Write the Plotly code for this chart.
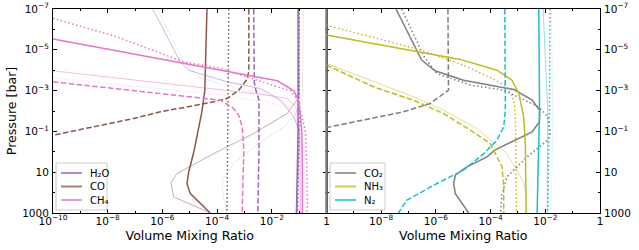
import numpy as np
import plotly.graph_objects as go

# ---------------- data (log10 values) ----------------
# Left panel: H2O, CO, CH4 ; Right panel: CO2, NH3, N2
# each curve: log10(pressure [bar]) and log10(volume mixing ratio)

H2O_solid_logP = [-7, -3, -1, 1, 3]
H2O_solid_logX = [-1.04, -1.04, -1.04, -1.07, -1.1]
H2O_dotted_logP = [-7, -3, -1, 1, 3]
H2O_dotted_logX = [-1.0, -1.0, -1.0, -1.03, -1.06]
H2O_dashed_logP = [-7, -3.4, -3.0, -2.6, -2.3, 0, 3]
H2O_dashed_logX = [-2.66, -2.64, -2.58, -2.48, -2.47, -2.47, -2.51]
H2O_thin_logP = [-7, -4.41, -4.0, -3.43, -3.1, -2.53, -1.71, -0.98, 1, 3]
H2O_thin_logX = [-6.35, -5.35, -5.04, -3.64, -2.41, -1.68, -1.19, -1.0, -1.03, -1.07]
H2O_thindot_logP = [-7, -4.33, -3.68, -3.15, -2.7, -2.04, -0.9, 1, 3]
H2O_thindot_logX = [-6.2, -5.17, -4.74, -3.39, -1.92, -1.19, -0.97, -0.98, -1.0]

CO_solid_logP = [-7, -5, -3, -2, -1, 0, 1, 1.56, 2.05, 2.54, 3]
CO_solid_logX = [-4.37, -4.40, -4.45, -4.55, -4.70, -4.85, -5.04, -5.10, -4.98, -4.61, -4.25]
CO_dashed_logP = [-7, -3.92, -3.51, -3.02, -2.61, -2.45, -2.2, -1.96, -1.63, -1.3, -0.81, -0.7]
CO_dashed_logX = [-2.84, -2.84, -2.93, -3.21, -3.64, -4.12, -5.1, -6.08, -7.06, -8.29, -10, -10.4]
CO_dotted_logP = [-7, 3]
CO_dotted_logX = [-3.57, -3.64]
CO_thin_logP = [-7, -2.7, -1.88, -0.9, 0, 1.07, 1.53, 2.21, 3]
CO_thin_logX = [-1.0, -1.0, -1.43, -2.66, -4.0, -5.47, -5.69, -5.59, -4.25]
CO_thindot_logP = [-7, -2.86, -2.04, -1.22, -0.42, 0.58, 1.4, 2.23, 3]
CO_thindot_logX = [-0.85, -0.88, -1.0, -1.55, -2.48, -3.39, -3.82, -3.77, -3.64]

CH4_solid_logP = [-5.53, -3.48, -2.99, -2.53, -1.71, -0.9, 1, 3]
CH4_solid_logX = [-10, -1.8, -1.19, -1.03, -0.95, -0.9, -0.88, -0.88]
CH4_dotted_logP = [-6.54, -5.64, -4.41, -4.09, -3.35, -2.99, -2.53, -1.71, -0.9, 0.74, 3]
CH4_dotted_logX = [-10, -7.67, -5.23, -3.88, -2.17, -1.31, -1.03, -0.88, -0.76, -0.72, -0.70]
CH4_dashed_logP = [-3.43, -2.53, -2.12, -1.8, -1.22, -0.08, 1.56, 3]
CH4_dashed_logX = [-10, -3.88, -3.39, -3.21, -3.08, -3.02, -3.06, -3.08]
CH4_thin_logP = [-3.97, -3.06, -2.78, -2.61, -2.2, -1.55, -0.9, 3]
CH4_thin_logX = [-10, -3.88, -2.17, -1.43, -1.13, -1.0, -0.97, -0.95]
CH4_thindot_logP = [-3.64, -2.78, -2.45, -2.12, -1.5, -0.9, 3]
CH4_thindot_logX = [-10, -3.88, -2.17, -1.31, -0.95, -0.82, -0.78]

CO2_solid_logP = [-7, -4.5, -3.97, -3.51, -3.05, -2.53, -2.04, -1.47, -0.98, -0.08, 0.25, 0.74, 1.15, 1.56, 2.05, 3]
CO2_solid_logX = [-7.46, -6.52, -6.03, -4.99, -3.15, -2.48, -2.21, -2.21, -2.48, -3.85, -4.13, -4.87, -5.29, -5.35, -5.29, -4.8]
CO2_dotted_logP = [-7, -4.66, -3.84, -3.27, -3.02, -2.2, -1.71, -0.9, -0.57, 0.25, 1.23, 2.05, 3]
CO2_dotted_logX = [-7.25, -6.43, -5.97, -4.74, -3.52, -2.24, -1.91, -1.81, -1.91, -2.67, -3.4, -3.58, -3.64]
CO2_dashed_logP = [-7, -3.02, -2.37, -1.96, -1.22, -1.17]
CO2_dashed_logX = [-5.56, -5.54, -6.21, -7.19, -9.88, -10.2]

NH3_solid_logP = [-5.72, -4.53, -4.0, -3.51, -2.86, -1.71, -0.4, 3]
NH3_solid_logX = [-10, -5.11, -3.77, -3.22, -2.97, -2.79, -2.73, -2.70]
NH3_dotted_logP = [-6.21, -5.0, -4.25, -3.56, -3.19, -2.53, -1.71, 3]
NH3_dotted_logX = [-10, -6.58, -5.0, -3.89, -3.4, -3.15, -3.09, -3.06]
NH3_dashed_logP = [-4.25, -3.19, -2.53, -1.88, -1.06, -0.4, 0.74, 1.72, 3]
NH3_dashed_logX = [-10, -8.29, -6.82, -5.72, -4.74, -4.01, -3.58, -3.52, -3.52]
NH3_thin_logP = [-4.33, -2.7, -2.04, -1.14, 0.09, 1.48, 2.05, 3]
NH3_thin_logX = [-10, -6.82, -5.72, -4.5, -3.4, -2.79, -2.7, -2.7]
NH3_thindot_logP = [-4.17, -1.8, -0.57, 0.25, 1.07, 2.05, 3]
NH3_thindot_logX = [-10, -5.72, -4.38, -3.64, -3.15, -3.03, -3.03]

N2_solid_logP = [-7, -2.04, 3]
N2_solid_logX = [-2.24, -2.21, -2.3]
N2_dotted_logP = [-7, -2, 3]
N2_dotted_logX = [-1.83, -1.85, -1.91]
N2_dashed_logP = [-7, -2.04, -1.22, -0.57, 0.09, 0.9, 1.56, 2.38, 3]
N2_dashed_logX = [-3.48, -3.46, -3.52, -3.77, -4.25, -4.99, -5.97, -7.07, -7.37]
N2_thin_logP = [-7, -2.04, 3]
N2_thin_logX = [-2.08, -1.91, -1.93]
N2_thindot_logP = [-7, -1, 3]
N2_thindot_logX = [-1.78, -1.72, -1.8]

colors = {"H2O": "#9467bd", "CO": "#8c564b", "CH4": "#e377c2",
          "CO2": "#7f7f7f", "NH3": "#bcbd22", "N2": "#17becf"}
legend_left = ["H2O", "CO", "CH4"]
legend_right = ["CO2", "NH3", "N2"]
legend_names = {"H2O": "H₂O", "CO": "CO", "CH4": "CH₄",
                "CO2": "CO₂", "NH3": "NH₃", "N2": "N₂"}

y_tickvals = [1e-7, 1e-5, 1e-3, 1e-1, 10, 1000]
y_ticktext = ["10<sup>−7</sup>", "10<sup>−5</sup>", "10<sup>−3</sup>", "10<sup>−1</sup>", "10", "1000"]
x_tickvals = [1e-10, 1e-8, 1e-6, 1e-4, 1e-2, 1]
x_ticktext_left = ["10<sup>−10</sup>", "10<sup>−8</sup>", "10<sup>−6</sup>", "10<sup>−4</sup>", "10<sup>−2</sup>", "1"]
x_ticktext_right = ["", "10<sup>−8</sup>", "10<sup>−6</sup>", "10<sup>−4</sup>", "10<sup>−2</sup>", "1"]

# ---------------- figure ----------------
W, H = 639, 250
ML, MR, MT, MB = 53, 39, 9, 37
PW, PH = W - ML - MR, H - MT - MB

fig = go.Figure()

styles = {
    "solid": dict(width=1.5, dash="solid", opacity=1.0),
    "dashed": dict(width=1.5, dash="5.5px,2.4px", opacity=1.0),
    "dotted": dict(width=1.5, dash="1.5px,2.5px", opacity=1.0),
    "thin": dict(width=0.8, dash="solid", opacity=0.6),
    "thindot": dict(width=0.8, dash="0.8px,1.3px", opacity=0.45),
}

g = globals()


def add_species(sp, xa, ya):
    for st in ["thindot", "thin", "dotted", "dashed", "solid"]:
        kp, kx = f"{sp}_{st}_logP", f"{sp}_{st}_logX"
        if kp not in g:
            continue
        P = 10 ** np.array(g[kp], dtype=float)
        X = 10 ** np.array(g[kx], dtype=float)
        s = styles[st]
        fig.add_trace(go.Scatter(x=X, y=P, mode="lines", xaxis=xa, yaxis=ya,
                                 line=dict(color=colors[sp], width=s["width"], dash=s["dash"]),
                                 opacity=s["opacity"], showlegend=False, hoverinfo="skip"))


for sp in legend_left:
    add_species(sp, "x", "y")
for sp in legend_right:
    add_species(sp, "x2", "y2")

font = dict(family="DejaVu Sans", size=10.5, color="black")
title_font = dict(family="DejaVu Sans", size=12.6, color="black")


def axis_common():
    return dict(type="log", showline=True, linecolor="black", linewidth=1,
                ticks="inside", ticklen=4, tickwidth=1, tickcolor="black",
                mirror="allticks", showgrid=False, zeroline=False, automargin=False,
                ticklabeloverflow="allow",
                tickfont=font, tickmode="array",
                minor=dict(ticks="inside", ticklen=2, tickwidth=0.8, tickcolor="black", showgrid=False))


fig.update_layout(
    width=W, height=H,
    margin=dict(l=ML, r=MR, t=MT, b=MB, autoexpand=False),
    paper_bgcolor="white", plot_bgcolor="white",
    font=font, showlegend=False,
    xaxis=dict(**axis_common(), domain=[0, 0.5], range=[-10, 0], anchor="y",
               tickvals=x_tickvals, ticktext=x_ticktext_left, ticklabelstandoff=-2,
               title=dict(text="Volume Mixing Ratio", font=title_font, standoff=5)),
    xaxis2=dict(**axis_common(), domain=[0.5, 1], range=[-10, 0], anchor="y2",
                tickvals=x_tickvals, ticktext=x_ticktext_right, ticklabelstandoff=-2,
                title=dict(text="Volume Mixing Ratio", font=title_font, standoff=5)),
    yaxis=dict(**axis_common(), range=[3, -7], anchor="x", domain=[0, 1],
               tickvals=y_tickvals, ticktext=y_ticktext, ticklabelstandoff=1,
               title=dict(text="Pressure [bar]", font=title_font, standoff=2)),
    yaxis2=dict(**axis_common(), range=[3, -7], anchor="x2", side="right", domain=[0, 1],
                tickvals=y_tickvals, ticktext=y_ticktext, ticklabelstandoff=1, showticklabels=True),
)

for ax in ["xaxis", "xaxis2"]:
    fig.layout[ax].minor.tickvals = [1e-9, 1e-7, 1e-5, 1e-3, 1e-1]
for ax in ["yaxis", "yaxis2"]:
    fig.layout[ax].minor.tickvals = [1e-6, 1e-4, 1e-2, 1, 100]

# middle spine
fig.add_shape(type="line", xref="paper", yref="paper", x0=0.5, x1=0.5, y0=0, y1=1,
              line=dict(color="#808080", width=2.5), layer="above")


# hand-drawn legends (matplotlib-like compact boxes)
def px_x(px):
    return (px - ML) / PW


def px_y(py):
    return (H - MB - py) / PH


def draw_legend(names, box_x0, box_x1):
    fig.add_shape(type="rect", xref="paper", yref="paper",
                  x0=px_x(box_x0), x1=px_x(box_x1), y0=px_y(210), y1=px_y(163),
                  line=dict(color="#cccccc", width=1), fillcolor="rgba(255,255,255,0.8)",
                  layer="above")
    for i, sp in enumerate(names):
        yy = px_y(173 + 13.5 * i)
        fig.add_shape(type="line", xref="paper", yref="paper",
                      x0=px_x(box_x0 + 5), x1=px_x(box_x0 + 26), y0=yy, y1=yy,
                      line=dict(color=colors[sp], width=2), opacity=0.75, layer="above")
        fig.add_annotation(xref="paper", yref="paper", x=px_x(box_x0 + 32), y=yy,
                           text=legend_names[sp], showarrow=False, xanchor="left", yanchor="middle",
                           font=dict(family="DejaVu Sans", size=10, color="black"))


draw_legend(legend_left, 56, 107)
draw_legend(legend_right, 330, 385)

# the page body has a default 8px margin; remove it so the figure sits at the window origin
fig.write_html("out.html", config={"displayModeBar": False},
               post_script="document.body.style.margin='0px';")
